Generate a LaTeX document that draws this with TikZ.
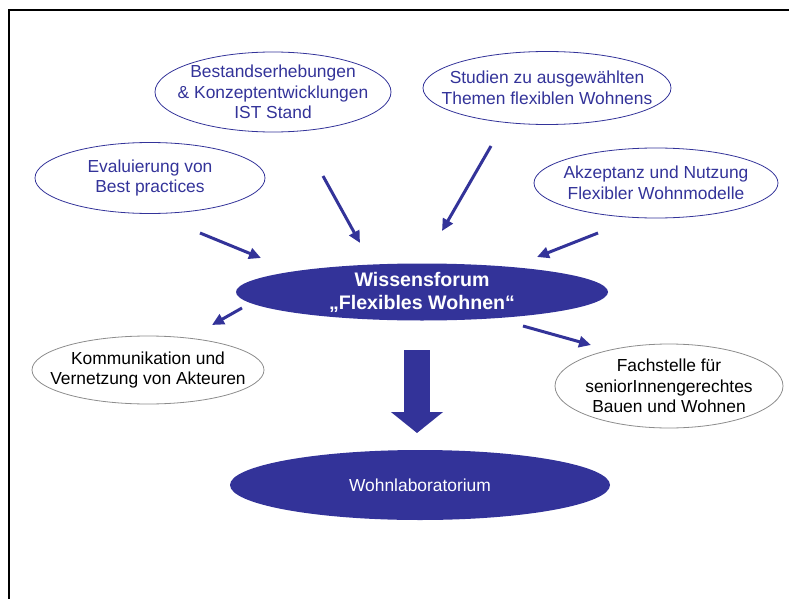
\documentclass[tikz,border=0pt]{standalone}
\usepackage{fontspec}
\setmainfont{Liberation Sans}
\usetikzlibrary{arrows.meta,shapes.geometric}
\definecolor{blau}{HTML}{333399}
\definecolor{grauw}{HTML}{8C8C8C}
\tikzset{
  pfeil/.style={-{Triangle[length=12pt,width=11pt]},blau,line width=3pt},
  dickpfeil/.style={-{Triangle[length=21pt,width=51pt]},blau,line width=26pt},
  blase/.style={ellipse,draw=blau,line width=0.8pt,inner sep=0pt},
  blaseg/.style={ellipse,draw=grauw,line width=0.8pt,inner sep=0pt},
  blasef/.style={ellipse,fill=blau,inner sep=0pt},
  txt/.style={align=center,inner sep=0pt,font={\fontsize{17.4}{20.5}\selectfont}},
  txtb/.style={align=center,inner sep=0pt,font={\fontsize{19.6}{23}\selectfont\bfseries}},
  rahmen/.style={black,line width=2pt},
}

\begin{document}
\begin{tikzpicture}[x=1pt,y=-1pt]
  \useasboundingbox (0,0) rectangle (789,599);
  \draw[rahmen] (789,10)--(9,10)--(9,599);
  % Zulieferer oben
  \node[blase,minimum width=236pt,minimum height=80pt,
    label={[txt,blau]center:{Bestandserhebungen\\\& Konzeptentwicklungen\\IST Stand}}] (bestand) at (273,92) {};
  \node[blase,minimum width=248pt,minimum height=73pt,
    label={[txt,blau]center:{Studien zu ausgewählten\\Themen flexiblen Wohnens}}] (studien) at (547,88) {};
  \node[blase,minimum width=230pt,minimum height=71pt,
    label={[txt,blau]center:{Evaluierung von\\Best practices}}] (eval) at (150,178) {};
  \node[blase,minimum width=244pt,minimum height=70pt,
    label={[txt,blau]center:{Akzeptanz und Nutzung\\Flexibler Wohnmodelle}}] (akzeptanz) at (656,183) {};
  % Mitte
  \node[blasef,minimum width=372pt,minimum height=57pt,
    label={[txtb,white]center:{Wissensforum\\„Flexibles Wohnen“}}] (forum) at (422,292) {};
  \node[blaseg,minimum width=232pt,minimum height=68pt,
    label={[txt,black]center:{Kommunikation und\\Vernetzung von Akteuren}}] (komm) at (148,370) {};
  \node[blaseg,minimum width=228pt,minimum height=84pt,
    label={[txt,black]center:{Fachstelle für\\seniorInnengerechtes\\Bauen und Wohnen}}] (fach) at (669,386) {};
  \node[blasef,minimum width=380pt,minimum height=70pt,
    label={[txt,white]center:{Wohnlaboratorium}}] (wohnlab) at (420,485) {};
  % Pfeile
  \coordinate (eval-s) at (200,233);  \coordinate (eval-z) at (261,258);
  \coordinate (best-s) at (323,176);  \coordinate (best-z) at (360,243);
  \coordinate (stud-s) at (491,146);  \coordinate (stud-z) at (442,231);
  \coordinate (akz-s) at (598,233);   \coordinate (akz-z) at (537,257);
  \coordinate (komm-s) at (242,308);  \coordinate (komm-z) at (212,325);
  \coordinate (fach-s) at (523,326);  \coordinate (fach-z) at (591,345);
  \coordinate (lab-s) at (417,350);   \coordinate (lab-z) at (417,433);
  \draw[pfeil] (eval-s)--(eval-z);
  \draw[pfeil] (best-s)--(best-z);
  \draw[pfeil] (stud-s)--(stud-z);
  \draw[pfeil] (akz-s)--(akz-z);
  \draw[pfeil] (komm-s)--(komm-z);
  \draw[pfeil] (fach-s)--(fach-z);
  \draw[dickpfeil] (lab-s)--(lab-z);
\end{tikzpicture}
\end{document}
